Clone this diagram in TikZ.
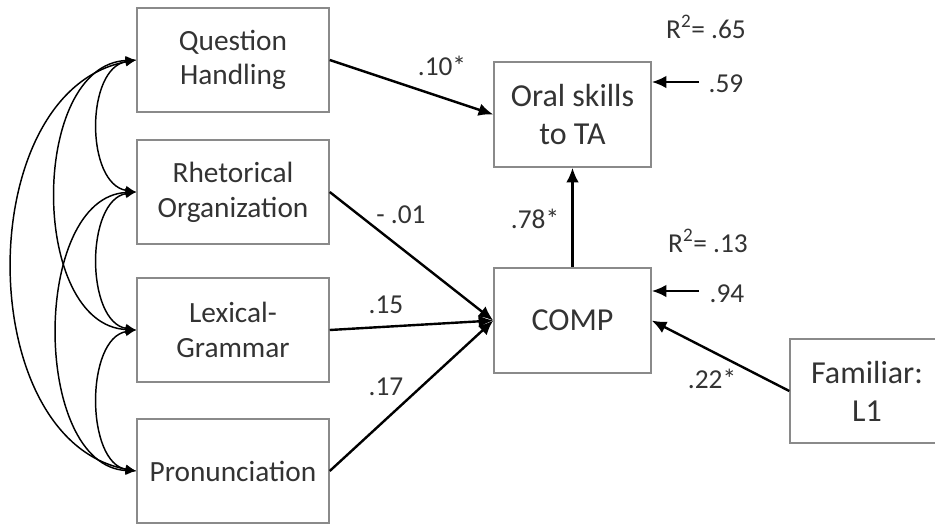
\documentclass[tikz,border=0pt]{standalone}
\usepackage{fontspec}
\setmainfont{Carlito}
\usetikzlibrary{arrows.meta}

\definecolor{txtgray}{HTML}{333333}
\definecolor{framegray}{HTML}{8A8A8A}

\begin{document}
\begin{tikzpicture}[x=0.75pt, y=-0.75pt,
  every node/.style={text=txtgray, inner sep=0pt},
  predictor/.style={draw=framegray, line width=1.1pt, minimum width=144pt, minimum height=78pt,
    align=center, font=\fontsize{22}{26}\selectfont},
  outcome/.style={draw=framegray, line width=1.1pt, minimum width=117.75pt, minimum height=78.75pt,
    align=center, font=\fontsize{24}{28.5}\selectfont},
  coef/.style={anchor=base, font=\fontsize{20.5}{24}\selectfont},
  path/.style={draw=black, line width=1.8pt, -{Latex[length=11pt,width=9.5pt]}},
  cov/.style={draw=black, line width=1.1pt, {Latex[length=8pt,width=7pt]}-{Latex[length=8pt,width=7pt]}}
]
\useasboundingbox (0,0) rectangle (935,525);

% predictor boxes
\node[predictor] (qh) at (233,60)  {Question\\Handling};
\node[predictor] (ro) at (233,192) {Rhetorical\\Organization};
\node[predictor] (lg) at (233,330) {Lexical-\\Grammar};
\node[predictor] (pr) at (233,471) {Pronunciation};

% outcome boxes
\node[outcome] (oral) at (572.5,114.5) {Oral skills\\to TA};
\node[outcome] (comp) at (572.5,320.5) {COMP};
\node[outcome, minimum width=115.5pt, minimum height=78pt] (fam) at (867,391) {Familiar:\\L1};

% covariances among predictors
\draw[cov] (qh.west) .. controls +(-51,8) and +(-51,-8) .. (ro.west);
\draw[cov] (ro.west) .. controls +(-51,8) and +(-51,-8) .. (lg.west);
\draw[cov] (lg.west) .. controls +(-51,8) and +(-51,-8) .. (pr.west);
\draw[cov] (qh.west) .. controls +(-107,5) and +(-107,-5) .. (lg.west);
\draw[cov] (ro.west) .. controls +(-105,5) and +(-105,-5) .. (pr.west);
\draw[cov] (qh.west) .. controls +(-165,30) and +(-165,-30) .. (pr.west);

% structural paths
\draw[path] (qh.east) -- (oral.west);
\draw[path] (ro.east) -- (comp.west);
\draw[path] (lg.east) -- (comp.west);
\draw[path] (pr.east) -- (comp.west);
\draw[path] (comp.north) -- (oral.south);
\draw[path] (fam.west) -- (comp.east);

% residual terms
\coordinate (e1) at (699,82);
\coordinate (e2) at (699,291);
\draw[path] (e1) -- (e1 -| oral.east);
\draw[path] (e2) -- (e2 -| comp.east);

% coefficients
\node[coef] (c1) at (442,75)  {.10*};
\node[coef] (c2) at (401,223) {- .01};
\node[coef] (c3) at (386,313) {.15};
\node[coef] (c4) at (386,395) {.17};
\node[coef] (c5) at (535,228) {.78*};
\node[coef] (c6) at (712,388) {.22*};
\node[coef] (r1) at (706,38)  {R\textsuperscript{2}= .65};
\node[coef] (r2) at (708,252) {R\textsuperscript{2}= .13};
\node[coef] (d1) at (726,92)  {.59};
\node[coef] (d2) at (727,302) {.94};
\end{tikzpicture}
\end{document}
